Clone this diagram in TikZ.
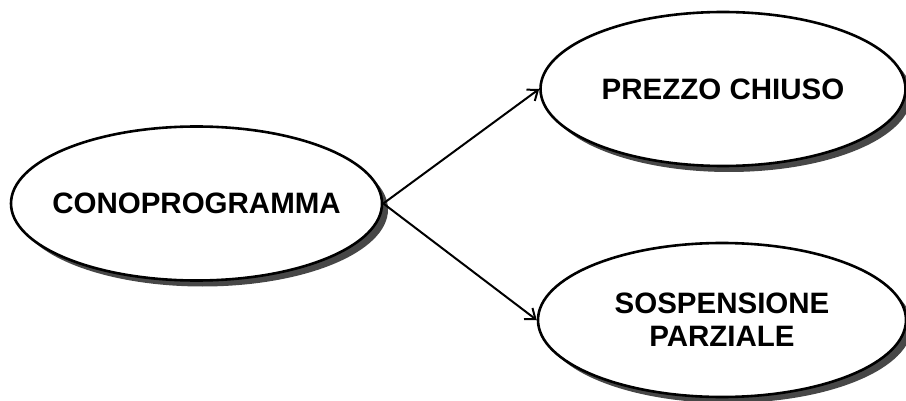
\documentclass[tikz,border=0pt]{standalone}
\usepackage{fontspec}
\setmainfont{Liberation Sans}
\usepackage{tikz}
\usetikzlibrary{arrows.meta,positioning,shapes.geometric,shadows}
\definecolor{ink}{HTML}{000000}
\definecolor{shade}{HTML}{474747}

\begin{document}
\begin{tikzpicture}[
  x=1pt,y=-1pt,
  every node/.style={font=\bfseries\fontsize{29.5}{33}\selectfont},
  topic/.style={ellipse,draw=ink,line width=2.6pt,fill=white,minimum width=371pt,minimum height=154pt,
    inner xsep=-60pt,inner ysep=0pt,align=center,
    drop shadow={shadow xshift=6pt,shadow yshift=-6pt,fill=shade,opacity=1}},
  link/.style={line width=2pt,color=ink,-{Straight Barb[length=9pt,width=14pt,line width=2pt]}}
]
\useasboundingbox (0,0) rectangle (906,401);
\node[topic] (cono) at (196.5,203.5) {CONOPROGRAMMA};
\node[topic,minimum width=365pt] (prezzo) at (723,89) {PREZZO CHIUSO};
\node[topic,minimum width=368pt] (sosp) at (722,320) {SOSPENSIONE\\PARZIALE};
\draw[link] (cono.east) -- (prezzo.west);
\draw[link] (cono.east) -- (sosp.west);
\end{tikzpicture}
\end{document}
